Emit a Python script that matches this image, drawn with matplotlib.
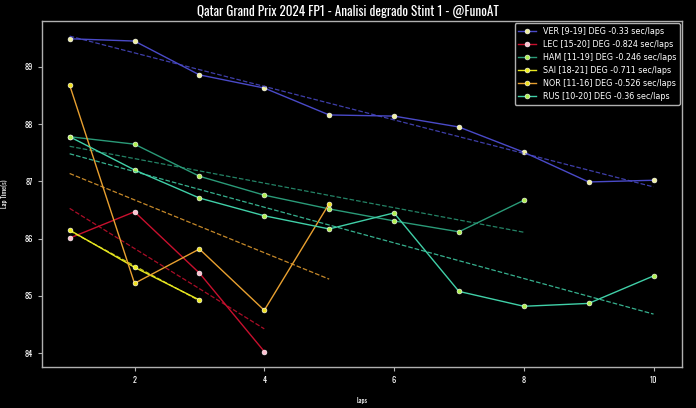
import numpy as np
import matplotlib.pyplot as plt

# dati (tempo sul giro in secondi, valori approssimati)
laps_ver = [1, 2, 3, 4, 5, 6, 7, 8, 9, 10]
ver = [89.49, 89.45, 88.86, 88.63, 88.16, 88.14, 87.95, 87.51, 86.99, 87.02]

laps_lec = [1, 2, 3, 4]
lec = [86.01, 86.47, 85.40, 84.03]

laps_ham = [1, 2, 3, 4, 5, 6, 7, 8]
ham = [87.78, 87.65, 87.09, 86.76, 86.52, 86.31, 86.12, 86.67]

laps_sai = [1, 2, 3]
sai = [86.15, 85.50, 84.93]

laps_nor = [1, 2, 3, 4, 5]
nor = [88.68, 85.22, 85.82, 84.75, 86.61]

laps_rus = [1, 2, 3, 4, 5, 6, 7, 8, 9, 10]
rus = [87.78, 87.20, 86.71, 86.40, 86.17, 86.45, 85.08, 84.82, 84.87, 85.35]

labels = ["VER [9-19] DEG -0.33 sec/laps",
          "LEC [15-20] DEG -0.824 sec/laps",
          "HAM [11-19] DEG -0.246 sec/laps",
          "SAI [18-21] DEG -0.711 sec/laps",
          "NOR [11-16] DEG -0.526 sec/laps",
          "RUS [10-20] DEG -0.36 sec/laps"]

series = [(laps_ver, ver), (laps_lec, lec), (laps_ham, ham),
          (laps_sai, sai), (laps_nor, nor), (laps_rus, rus)]
colors = ['#4a4ac8', '#c8102e', '#2a9a78', '#e8e820', '#e8a030', '#40d0a8']
marker_colors = ['#f0f0a0', '#ffc0d0', '#b0f050', '#f0f020', '#f0e020', '#b0f050']

# font stretto per titolo e tick
narrow = ['Oswald', 'Fjalla One', 'Archivo Narrow', 'Barlow Condensed', 'DejaVu Sans']

fig = plt.figure(figsize=(6.96, 4.08), dpi=100, facecolor='black')
ax = fig.add_axes([0.060, 0.1005, 0.920, 0.848], facecolor='black')

for (x, y), c, mc, lab in zip(series, colors, marker_colors, labels):
    ax.plot(x, y, color=c, linewidth=1.0, marker='o', markersize=3.5,
            markerfacecolor=mc, markeredgecolor='white', markeredgewidth=0.4,
            label=lab)
    # retta di regressione (degrado)
    p = np.polyfit(x, y, 1)
    xs = np.array([x[0], x[-1]])
    ax.plot(xs, np.polyval(p, xs), color=c, linestyle='--', linewidth=0.9, alpha=0.85)

ax.set_xlim(0.57, 10.44)
ax.set_ylim(83.76, 89.80)
ax.set_xticks([2, 4, 6, 8, 10])
ax.set_yticks([84, 85, 86, 87, 88, 89])

for s in ax.spines.values():
    s.set_color('#b0b0b0')
    s.set_linewidth(1.0)
ax.tick_params(colors='#b0b0b0', length=3, width=0.8, labelcolor='white', labelsize=6)
for t in ax.get_xticklabels() + ax.get_yticklabels():
    t.set_family(narrow)
    t.set_fontweight('bold')

ax.set_xlabel("Laps", color='white', fontsize=5, family=narrow, fontweight='bold', labelpad=9)
ax.set_ylabel("Lap Time(s)", color='white', fontsize=5, family=narrow, fontweight='bold', labelpad=12)

fig.suptitle("Qatar Grand Prix 2024 FP1 - Analisi degrado Stint 1 - @FunoAT",
             color='white', fontsize=9.5, family=narrow, fontweight='heavy', y=0.988)

leg = ax.legend(loc='upper right', fontsize=5.8, facecolor='black', edgecolor='#b0b0b0',
                labelcolor='white', framealpha=1, borderpad=0.45, labelspacing=0.5,
                handlelength=2.2, borderaxespad=0.3)
leg.get_frame().set_linewidth(1.0)

fig.savefig('out.png', dpi=100, facecolor='black')
